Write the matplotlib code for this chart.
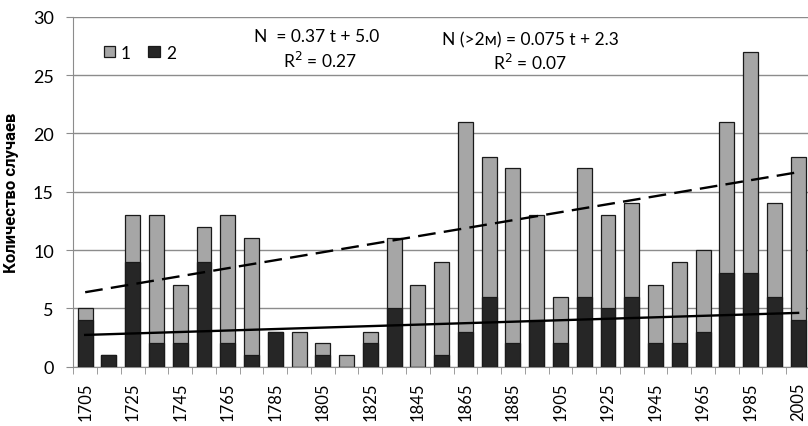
import numpy as np
import matplotlib.pyplot as plt

# decades (bar centers)
years = list(range(1705, 2006, 10))
total_cases = [5, 1, 13, 13, 7, 12, 13, 11, 3, 3, 2, 1, 3, 11, 7, 9,
               21, 18, 17, 13, 6, 17, 13, 14, 7, 9, 10, 21, 27, 14, 18]
big_cases = [4, 1, 9, 2, 2, 9, 2, 1, 3, 0, 1, 0, 2, 5, 0, 1,
             3, 6, 2, 4, 2, 6, 5, 6, 2, 2, 3, 8, 8, 6, 4]
# trend lines as drawn (slope, intercept over bar index t = 1..31)
trend_total = (0.343, 6.04)
trend_big = (0.063, 2.66)

eq_total = ["N  = 0.37 t + 5.0", "R$^2$ = 0.27"]
eq_big = ["N (>2м) = 0.075 t + 2.3", "R$^2$ = 0.07"]

plt.rcParams['font.family'] = ['Lato', 'DejaVu Sans']

W, H = 808, 427
fig = plt.figure(figsize=(W / 100, H / 100), dpi=100)
ax = fig.add_axes([73.3 / W, (H - 367.7) / H, (810 - 73.3) / W, 350 / H])

x = np.arange(len(years))
light = '#a6a6a6'
dark = '#262626'
ax.bar(x, total_cases, width=0.63, color=light, edgecolor='#1a1a1a',
       linewidth=0.9, zorder=2, label='1')
ax.bar(x, big_cases, width=0.63, color=dark, edgecolor='#1a1a1a',
       linewidth=0.9, zorder=3, label='2')

t = x + 1
ax.plot(x, trend_total[0] * t + trend_total[1], color='black', lw=1.7,
        dashes=(7.5, 3.5), zorder=4)
ax.plot(x, trend_big[0] * t + trend_big[1], color='black', lw=1.7, zorder=4)

ax.set_xlim(-0.5, len(years) - 0.5)
ax.set_ylim(0, 30)
ax.set_yticks(range(0, 31, 5))
ax.yaxis.grid(True, color='#8c8c8c', lw=1)
ax.set_axisbelow(True)

ax.set_xticks(x[::2])
ax.set_xticklabels([str(y) for y in years[::2]], rotation=90)
ax.set_xticks(np.arange(-0.5, len(years), 1), minor=True)
ax.tick_params(axis='x', which='major', length=0, pad=11, labelsize=12)
ax.tick_params(axis='x', which='minor', length=5, color='#8c8c8c')
ax.tick_params(axis='y', length=5, color='#8c8c8c', labelsize=13, pad=9)

for s in ['top', 'right']:
    ax.spines[s].set_visible(False)
ax.spines['left'].set_color('#8c8c8c')
ax.spines['bottom'].set_color('#8c8c8c')

ax.set_ylabel('Количество случаев', fontsize=12, fontweight='bold',
              family=['Roboto', 'DejaVu Sans'], labelpad=10)

ax.legend(loc='upper left', bbox_to_anchor=(0.02, 0.965), ncol=2, frameon=False,
          handlelength=0.65, handleheight=0.65, handletextpad=0.35,
          columnspacing=1.0, fontsize=12.5)

ax.text(0.33, 0.945, eq_total[0], transform=ax.transAxes, ha='center', va='center', fontsize=12.5)
ax.text(0.335, 0.875, eq_total[1], transform=ax.transAxes, ha='center', va='center', fontsize=12.5)
ax.text(0.62, 0.935, eq_big[0], transform=ax.transAxes, ha='center', va='center', fontsize=12.5)
ax.text(0.62, 0.87, eq_big[1], transform=ax.transAxes, ha='center', va='center', fontsize=12.5)

fig.savefig('out.png', dpi=100)
